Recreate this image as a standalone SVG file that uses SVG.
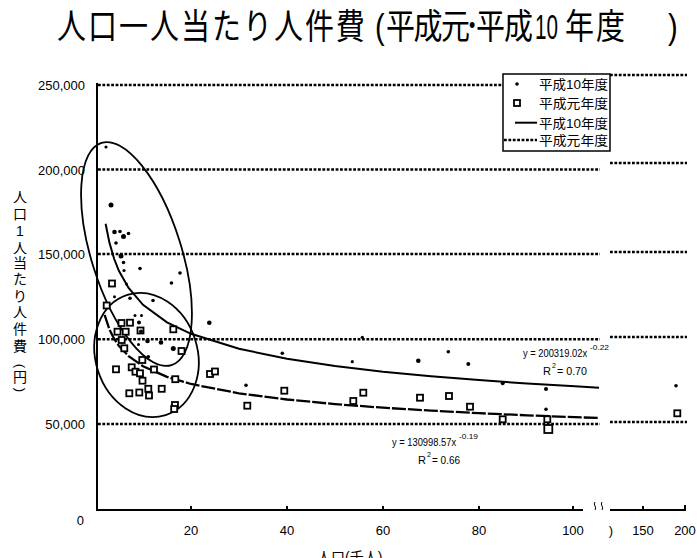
<svg xmlns="http://www.w3.org/2000/svg" width="697" height="558" viewBox="0 0 697 558">
<style>
.t{font-family:"Liberation Sans","Noto Sans CJK JP",sans-serif;fill:#000}
.grid{stroke:#000;stroke-width:2.5;stroke-dasharray:2.8 1.6;fill:none}
.axis{stroke:#000;stroke-width:2;fill:none}
.ell{stroke:#000;stroke-width:1.8;fill:none}
.sq{fill:#fff;stroke:#000;stroke-width:1.8}
.dot{fill:#000}
.tl10{stroke:#000;stroke-width:2;fill:none}
.tl1{stroke:#000;stroke-width:2.3;fill:none;stroke-dasharray:14 2}
.yl{font-size:13px;text-anchor:end}
.xl{font-size:13px;text-anchor:middle}
.yt{font-size:14px;text-anchor:middle}
.eq{font-size:11px}
.sup{font-size:7px}
.lg{font-size:13px}
.ttl{font-size:29px}
</style>
<defs>
<rect id="sqm" x="-3" y="-3" width="6" height="6" class="sq"/>
</defs>
<rect width="697" height="558" fill="#fff"/>

<g id="title" class="t" transform="translate(0,39) scale(1,1.2)">
<text class="ttl" x="57" y="0" letter-spacing="2">人口一人当たり人件費</text>
<text class="ttl" x="375" y="0">(</text>
<text class="ttl" x="386" y="0" letter-spacing="-1.5">平成元</text>
<text x="469" y="-6" font-size="18">•</text>
<text class="ttl" x="476" y="0" letter-spacing="-1">平成</text>
<text class="ttl" x="535" y="0" textLength="23" lengthAdjust="spacingAndGlyphs">10</text>
<text class="ttl" x="565" y="0" letter-spacing="2">年度</text>
<text class="ttl" x="668" y="0">)</text>
</g>

<g id="gridlines">
<line class="grid" x1="98" y1="85" x2="503" y2="85"/>
<line class="grid" x1="98" y1="169.5" x2="600" y2="169.5"/>
<line class="grid" x1="98" y1="254" x2="600" y2="254"/>
<line class="grid" x1="98" y1="339.3" x2="600" y2="339.3"/>
<line class="grid" x1="98" y1="424" x2="600" y2="424"/>
<line class="grid" x1="610" y1="75" x2="687" y2="75"/>
<line class="grid" x1="610" y1="163" x2="687" y2="163"/>
<line class="grid" x1="610" y1="252" x2="687" y2="252"/>
<line class="grid" x1="610" y1="337" x2="687" y2="337"/>
<line class="grid" x1="610" y1="422" x2="687" y2="422"/>
</g>

<g id="axes">
<line class="axis" x1="97" y1="83" x2="97" y2="511"/>
<line class="axis" x1="96" y1="510" x2="583" y2="510"/>
<line class="axis" x1="610" y1="510" x2="686" y2="510"/>
<path class="axis" d="M191 510V506M287 510V506M383 510V506M479 510V506M573 510V506M643 510V506M685 510V505"/>
<path d="M595 502q-1.5 2 0 4t0 4M602 502q-1.5 2 0 4t0 4" stroke="#000" stroke-width="1" fill="none"/>
</g>

<g id="y-labels" class="t">
<text class="yl" x="85" y="90">250,000</text>
<text class="yl" x="85" y="174.5">200,000</text>
<text class="yl" x="85" y="259">150,000</text>
<text class="yl" x="85" y="344">100,000</text>
<text class="yl" x="85" y="429">50,000</text>
<text class="yl" x="84" y="525">0</text>
</g>

<g id="x-labels" class="t">
<text class="xl" x="191" y="535">20</text>
<text class="xl" x="287" y="535">40</text>
<text class="xl" x="383" y="535">60</text>
<text class="xl" x="479" y="535">80</text>
<text class="xl" x="573" y="535">100</text>
<text class="xl" x="611" y="535">)</text>
<text class="xl" x="643" y="535">150</text>
<text class="xl" x="685" y="535">200</text>
<text x="317" y="562" font-size="14">人口(千人)</text>
</g>

<g id="y-title" class="t">
<text class="yt" x="20" y="202">人</text>
<text class="yt" x="20" y="219">口</text>
<text class="yt" x="20" y="236">1</text>
<text class="yt" x="20" y="253">人</text>
<text class="yt" x="20" y="268">当</text>
<text class="yt" x="20" y="284">た</text>
<text class="yt" x="20" y="301">り</text>
<text class="yt" x="20" y="317">人</text>
<text class="yt" x="20" y="334">件</text>
<text class="yt" x="20" y="351">費</text>
<text class="yt" x="20" y="366" transform="rotate(90 20 366)" dominant-baseline="central" style="font-size:13px">(</text>
<text class="yt" x="20" y="382">円</text>
<text class="yt" x="20" y="390" transform="rotate(90 20 390)" dominant-baseline="central" style="font-size:13px">)</text>
</g>

<g id="trendlines">
<polyline class="tl10" points="105.6,223.7 109.4,242.6 114.2,259 119,271 128.6,288 143,304.8 167,322.3 191,333.8 239,348.8 287,358.8 335,366 383,371.7 431,376.3 479,380.1 527,383.5 575,386.3 599,387.7"/>
<polyline class="tl1" points="104.6,314.8 109.4,329.3 114.2,338.9 119,346 128.6,356.1 143,366.2 167,376.9 191,384 239,393.3 287,399.5 335,404.1 383,407.7 431,410.6 479,413.2 527,415.3 575,417.2 599,418"/>
</g>

<g id="ellipses">
<ellipse class="ell" cx="136.5" cy="254" rx="45" ry="116.5" transform="rotate(-17.5 136.5 254)"/>
<ellipse class="ell" cx="146.5" cy="355" rx="51" ry="63" transform="rotate(-17.7 146.5 355)"/>
</g>

<g id="series-h1">
<use href="#sqm" x="112" y="283.5"/>
<use href="#sqm" x="106.7" y="305.5"/>
<use href="#sqm" x="121.5" y="323"/>
<use href="#sqm" x="130" y="322.7"/>
<use href="#sqm" x="117.5" y="331.7"/>
<use href="#sqm" x="125.7" y="331.7"/>
<use href="#sqm" x="121.7" y="340"/>
<use href="#sqm" x="124.3" y="348.3"/>
<use href="#sqm" x="140.5" y="330.5"/>
<use href="#sqm" x="173.3" y="329.3"/>
<use href="#sqm" x="181.5" y="351"/>
<use href="#sqm" x="142.3" y="360"/>
<use href="#sqm" x="116" y="369.3"/>
<use href="#sqm" x="131.7" y="367.3"/>
<use href="#sqm" x="135.5" y="371.7"/>
<use href="#sqm" x="140" y="373.3"/>
<use href="#sqm" x="142.5" y="380.7"/>
<use href="#sqm" x="154" y="369.5"/>
<use href="#sqm" x="175.3" y="379.2"/>
<use href="#sqm" x="161.7" y="388.8"/>
<use href="#sqm" x="148.3" y="388.8"/>
<use href="#sqm" x="149" y="395.5"/>
<use href="#sqm" x="139.3" y="392.5"/>
<use href="#sqm" x="129.3" y="393.3"/>
<use href="#sqm" x="175" y="405"/>
<use href="#sqm" x="174.2" y="409"/>
<use href="#sqm" x="210" y="374"/>
<use href="#sqm" x="215" y="371.5"/>
<use href="#sqm" x="284.3" y="390.7"/>
<use href="#sqm" x="247.3" y="405.7"/>
<use href="#sqm" x="363.3" y="392.7"/>
<use href="#sqm" x="353.3" y="401"/>
<use href="#sqm" x="420" y="397.7"/>
<use href="#sqm" x="449" y="396"/>
<use href="#sqm" x="470" y="406.7"/>
<use href="#sqm" x="502.7" y="419.3"/>
<use href="#sqm" x="547.3" y="419.3"/>
<rect x="544.3" y="425" width="8" height="8" class="sq"/>
<use href="#sqm" x="677.3" y="413.3"/>
</g>

<g id="series-h10">
<circle class="dot" cx="106" cy="147" r="1.6"/>
<circle class="dot" cx="111" cy="205" r="2.5"/>
<circle class="dot" cx="114.5" cy="232" r="2.3"/>
<circle class="dot" cx="120" cy="231.5" r="1.8"/>
<circle class="dot" cx="123.5" cy="236.5" r="2.5"/>
<circle class="dot" cx="128.5" cy="233.5" r="1.8"/>
<circle class="dot" cx="116" cy="243" r="1.8"/>
<circle class="dot" cx="121" cy="256" r="2.5"/>
<circle class="dot" cx="123.5" cy="262.5" r="1.8"/>
<circle class="dot" cx="124" cy="270.5" r="1.6"/>
<circle class="dot" cx="140" cy="268.5" r="1.8"/>
<circle class="dot" cx="180" cy="273" r="1.8"/>
<circle class="dot" cx="171.5" cy="283" r="1.8"/>
<circle class="dot" cx="126.5" cy="284" r="1.5"/>
<circle class="dot" cx="130" cy="298.3" r="1.8"/>
<circle class="dot" cx="153" cy="300.5" r="1.8"/>
<circle class="dot" cx="114.5" cy="296.7" r="1.5"/>
<circle class="dot" cx="135" cy="315.5" r="1.5"/>
<circle class="dot" cx="141.5" cy="315.5" r="1.5"/>
<circle class="dot" cx="139" cy="322.5" r="2"/>
<circle class="dot" cx="141" cy="331.5" r="2"/>
<circle class="dot" cx="147.5" cy="341" r="2.3"/>
<circle class="dot" cx="161" cy="342.5" r="2.3"/>
<circle class="dot" cx="173.3" cy="348.5" r="2.5"/>
<circle class="dot" cx="138.5" cy="344.5" r="1.5"/>
<circle class="dot" cx="148.3" cy="356.7" r="1.8"/>
<circle class="dot" cx="209.3" cy="322.7" r="2.3"/>
<circle class="dot" cx="362.3" cy="337.3" r="1.6"/>
<circle class="dot" cx="282.3" cy="353.3" r="1.8"/>
<circle class="dot" cx="352.3" cy="361.7" r="1.6"/>
<circle class="dot" cx="418.3" cy="360.7" r="2.3"/>
<circle class="dot" cx="448.3" cy="351.7" r="1.8"/>
<circle class="dot" cx="246" cy="385.3" r="1.8"/>
<circle class="dot" cx="468.3" cy="364" r="2"/>
<circle class="dot" cx="502.7" cy="383.3" r="2"/>
<circle class="dot" cx="546" cy="389" r="2"/>
<circle class="dot" cx="546" cy="409.3" r="1.8"/>
<circle class="dot" cx="676" cy="385.7" r="1.8"/>
</g>

<g id="equations" class="t">
<text class="eq" transform="translate(523 357) scale(0.85 1)">y = 200319.02x</text>
<text class="sup" x="590" y="350" textLength="19" lengthAdjust="spacingAndGlyphs">-0.22</text>
<text class="eq" x="543" y="375">R</text>
<text class="sup" x="552" y="368">2</text>
<text class="eq" x="557" y="375" textLength="30" lengthAdjust="spacingAndGlyphs">= 0.70</text>
<text class="eq" transform="translate(392 446) scale(0.85 1)">y = 130998.57x</text>
<text class="sup" x="459" y="439" textLength="19" lengthAdjust="spacingAndGlyphs">-0.19</text>
<text class="eq" x="418" y="464">R</text>
<text class="sup" x="427" y="457">2</text>
<text class="eq" x="432" y="464" textLength="28" lengthAdjust="spacingAndGlyphs">= 0.66</text>
</g>

<g id="legend">
<rect x="503" y="74" width="107" height="77" fill="#fff" stroke="#000" stroke-width="1.5"/>
<circle class="dot" cx="517" cy="84" r="1.8"/>
<use href="#sqm" x="517" y="103"/>
<line x1="515" y1="122.7" x2="537" y2="122.7" stroke="#000" stroke-width="2"/>
<line class="grid" x1="504" y1="140" x2="537" y2="140"/>
<text class="t lg" x="539" y="89" textLength="69" lengthAdjust="spacingAndGlyphs">平成10年度</text>
<text class="t lg" x="539" y="108" textLength="69" lengthAdjust="spacingAndGlyphs">平成元年度</text>
<text class="t lg" x="539" y="127.5" textLength="69" lengthAdjust="spacingAndGlyphs">平成10年度</text>
<text class="t lg" x="539" y="145" textLength="69" lengthAdjust="spacingAndGlyphs">平成元年度</text>
</g>
</svg>
